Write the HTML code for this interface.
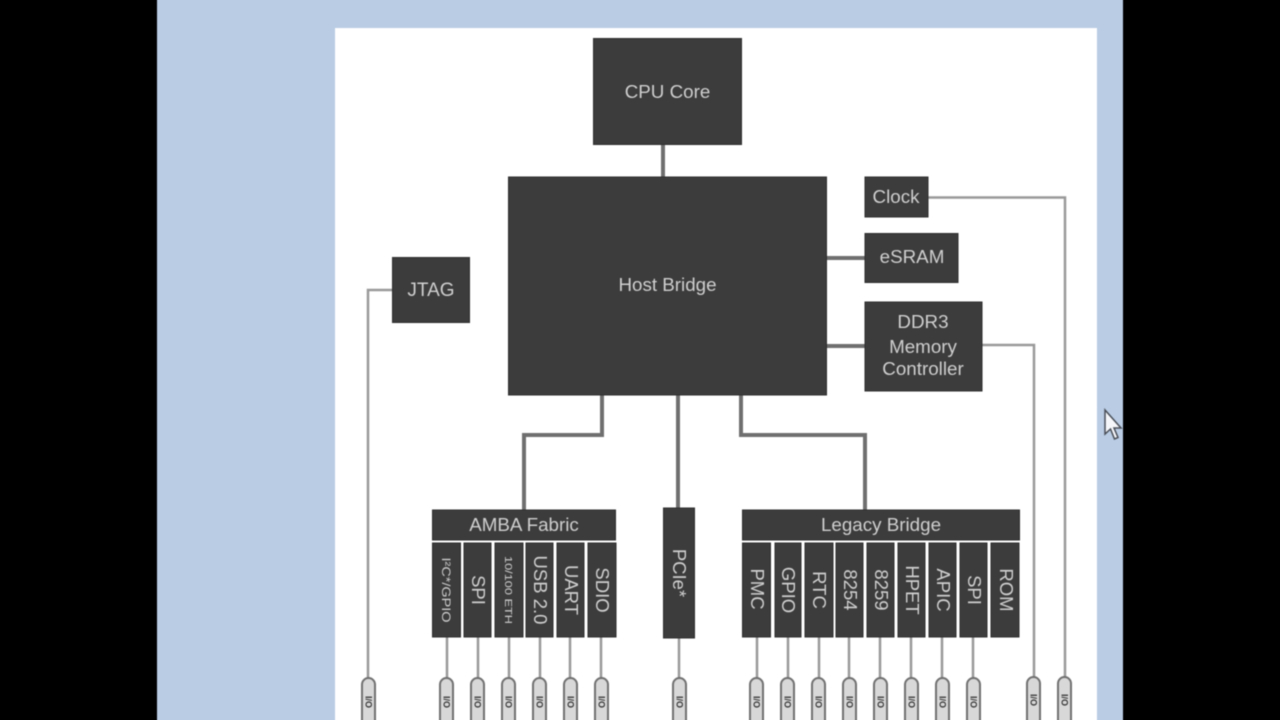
<!DOCTYPE html>
<html><head><meta charset="utf-8"><style>
html,body{margin:0;padding:0;background:#000;width:1280px;height:720px;overflow:hidden}
#w{position:relative;width:1280px;height:720px;overflow:hidden}
svg{display:block;position:absolute;left:-10px;top:-10px;filter:blur(0.6px)}
text{font-family:"Liberation Sans",sans-serif;fill:#cfcfcf}
.b{fill:#3c3c3c;stroke:#2e2e2e;stroke-width:1}
.l{fill:none;stroke:#8a8a8a}
.p{fill:#d8d8d8;stroke:#707070;stroke-width:2}
.i{fill:#333}
</style></head><body><div id="w">
<svg width="1300" height="740" viewBox="-10 -10 1300 740" xmlns="http://www.w3.org/2000/svg">
<rect x="-10" y="-10" width="1300" height="740" fill="#000"/>
<rect x="157" y="-10" width="966" height="740" fill="#b9cce4"/>
<rect x="335" y="28" width="762" height="702" fill="#fff"/>

<!-- thick connectors -->
<g class="l" stroke-width="4" style="stroke:#6f6f6f">
<path d="M663 144V178"/>
<path d="M827 258H866"/>
<path d="M827 346H866"/>
<path d="M602 395V435H524V510"/>
<path d="M678 395V508"/>
<path d="M741 395V435H865V510"/>
</g>
<!-- thin connectors -->
<g class="l" stroke-width="2.5" style="stroke:#999">
<path d="M928 197.500H1065V680"/>
<path d="M982 345H1034V680"/>
<path d="M392 290H368V680"/>
<path d="M447 637V680M478 637V680M509 637V680M540 637V680M570 637V680M601 637V680M679 637V680"/>
<path d="M757 637V680M788 637V680M819 637V680M849 637V680M880 637V680M911 637V680M942 637V680M973 637V680"/>
</g>

<!-- boxes -->
<rect class="b" x="593.500" y="38.500" width="148" height="106"/>
<rect class="b" x="508.500" y="177" width="318" height="218"/>
<rect class="b" x="865" y="177" width="63" height="40"/>
<rect class="b" x="865" y="233.500" width="93" height="49"/>
<rect class="b" x="865" y="302" width="117" height="89"/>
<rect class="b" x="392.500" y="257.500" width="77" height="65"/>
<rect class="b" x="432.500" y="510" width="183" height="30"/>
<rect class="b" x="742.500" y="510" width="277" height="30"/>
<rect class="b" x="663.500" y="508" width="31" height="130"/>

<!-- AMBA cells -->
<g class="b">
<rect x="432.500" y="543" width="28" height="94"/>
<rect x="464" y="543" width="27" height="94"/>
<rect x="495" y="543" width="28" height="94"/>
<rect x="526" y="543" width="27" height="94"/>
<rect x="557" y="543" width="27" height="94"/>
<rect x="588" y="543" width="28" height="94"/>
</g>
<!-- Legacy cells -->
<g class="b">
<rect x="742.500" y="543" width="28" height="94"/>
<rect x="775" y="543" width="26" height="94"/>
<rect x="805" y="543" width="28" height="94"/>
<rect x="836" y="543" width="27" height="94"/>
<rect x="867" y="543" width="27" height="94"/>
<rect x="898" y="543" width="27" height="94"/>
<rect x="929" y="543" width="27" height="94"/>
<rect x="960" y="543" width="27" height="94"/>
<rect x="991" y="543" width="28" height="94"/>
</g>

<!-- labels -->
<g font-size="18.800" text-anchor="middle">
<text x="667.500" y="98">CPU Core</text>
<text x="667.500" y="291">Host Bridge</text>
<text x="896" y="203">Clock</text>
<text x="912" y="263">eSRAM</text>
<text x="923" y="328">DDR3</text>
<text x="923" y="353">Memory</text>
<text x="923" y="375">Controller</text>
<text x="431" y="296" font-size="19">JTAG</text>
<text x="524" y="531">AMBA Fabric</text>
<text x="881" y="531">Legacy Bridge</text>
</g>

<!-- rotated labels -->
<g font-size="18.500" text-anchor="middle">
<text transform="translate(447,590) rotate(90) translate(0,5)" font-size="12" textLength="65" lengthAdjust="spacingAndGlyphs">I²C*/GPIO</text>
<text transform="translate(478,590) rotate(90) translate(0,6)">SPI</text>
<text transform="translate(509,590) rotate(90) translate(0,4)" font-size="10" textLength="68" lengthAdjust="spacingAndGlyphs">10/100 ETH</text>
<text transform="translate(540,590) rotate(90) translate(0,6)">USB 2.0</text>
<text transform="translate(571,590) rotate(90) translate(0,6)">UART</text>
<text transform="translate(602,590) rotate(90) translate(0,6)">SDIO</text>
<text transform="translate(679,573) rotate(90) translate(0,6)">PCIe*</text>
<text transform="translate(757,589) rotate(90) translate(0,6)">PMC</text>
<text transform="translate(788,590) rotate(90) translate(0,6)">GPIO</text>
<text transform="translate(819,590) rotate(90) translate(0,6)">RTC</text>
<text transform="translate(850,590) rotate(90) translate(0,6)">8254</text>
<text transform="translate(881,590) rotate(90) translate(0,6)">8259</text>
<text transform="translate(912,590) rotate(90) translate(0,6)">HPET</text>
<text transform="translate(943,590) rotate(90) translate(0,6)">APIC</text>
<text transform="translate(974,590) rotate(90) translate(0,6)">SPI</text>
<text transform="translate(1006,590) rotate(90) translate(0,6)">ROM</text>
</g>

<!-- pills -->
<g>
<rect class="p" x="362" y="678" width="13" height="60" rx="6.500"/>
<rect class="p" x="440" y="678" width="13" height="60" rx="6.500"/>
<rect class="p" x="471" y="678" width="13" height="60" rx="6.500"/>
<rect class="p" x="502" y="678" width="13" height="60" rx="6.500"/>
<rect class="p" x="533" y="678" width="13" height="60" rx="6.500"/>
<rect class="p" x="564" y="678" width="13" height="60" rx="6.500"/>
<rect class="p" x="595" y="678" width="13" height="60" rx="6.500"/>
<rect class="p" x="673" y="678" width="13" height="60" rx="6.500"/>
<rect class="p" x="750" y="678" width="13" height="60" rx="6.500"/>
<rect class="p" x="781" y="678" width="13" height="60" rx="6.500"/>
<rect class="p" x="812" y="678" width="13" height="60" rx="6.500"/>
<rect class="p" x="843" y="678" width="13" height="60" rx="6.500"/>
<rect class="p" x="874" y="678" width="13" height="60" rx="6.500"/>
<rect class="p" x="905" y="678" width="13" height="60" rx="6.500"/>
<rect class="p" x="936" y="678" width="13" height="60" rx="6.500"/>
<rect class="p" x="967" y="678" width="13" height="60" rx="6.500"/>
<rect class="p" x="1027" y="677" width="13" height="60" rx="6.500"/>
<rect class="p" x="1058" y="677" width="13" height="60" rx="6.500"/>
</g>
<g font-size="9" font-weight="bold" text-anchor="middle">
<text class="i" style="fill:#333" transform="translate(368.500,702) rotate(90) translate(0,3)">I/O</text>
<text class="i" style="fill:#333" transform="translate(446.500,702) rotate(90) translate(0,3)">I/O</text>
<text class="i" style="fill:#333" transform="translate(477.500,702) rotate(90) translate(0,3)">I/O</text>
<text class="i" style="fill:#333" transform="translate(508.500,702) rotate(90) translate(0,3)">I/O</text>
<text class="i" style="fill:#333" transform="translate(539.500,702) rotate(90) translate(0,3)">I/O</text>
<text class="i" style="fill:#333" transform="translate(570.500,702) rotate(90) translate(0,3)">I/O</text>
<text class="i" style="fill:#333" transform="translate(601.500,702) rotate(90) translate(0,3)">I/O</text>
<text class="i" style="fill:#333" transform="translate(679.500,702) rotate(90) translate(0,3)">I/O</text>
<text class="i" style="fill:#333" transform="translate(756.500,702) rotate(90) translate(0,3)">I/O</text>
<text class="i" style="fill:#333" transform="translate(787.500,702) rotate(90) translate(0,3)">I/O</text>
<text class="i" style="fill:#333" transform="translate(818.500,702) rotate(90) translate(0,3)">I/O</text>
<text class="i" style="fill:#333" transform="translate(849.500,702) rotate(90) translate(0,3)">I/O</text>
<text class="i" style="fill:#333" transform="translate(880.500,702) rotate(90) translate(0,3)">I/O</text>
<text class="i" style="fill:#333" transform="translate(911.500,702) rotate(90) translate(0,3)">I/O</text>
<text class="i" style="fill:#333" transform="translate(942.500,702) rotate(90) translate(0,3)">I/O</text>
<text class="i" style="fill:#333" transform="translate(973.500,702) rotate(90) translate(0,3)">I/O</text>
<text class="i" style="fill:#333" transform="translate(1033.500,700) rotate(90) translate(0,3)">I/O</text>
<text class="i" style="fill:#333" transform="translate(1064.500,700) rotate(90) translate(0,3)">I/O</text>
</g>

<!-- cursor -->
<path d="M1105 410L1105 434L1110.500 429L1114.500 439L1118 437.500L1114 428L1121 428Z" fill="#f4f6fa" stroke="#4a4f58" stroke-width="1.500"/>
</svg>
</div></body></html>
